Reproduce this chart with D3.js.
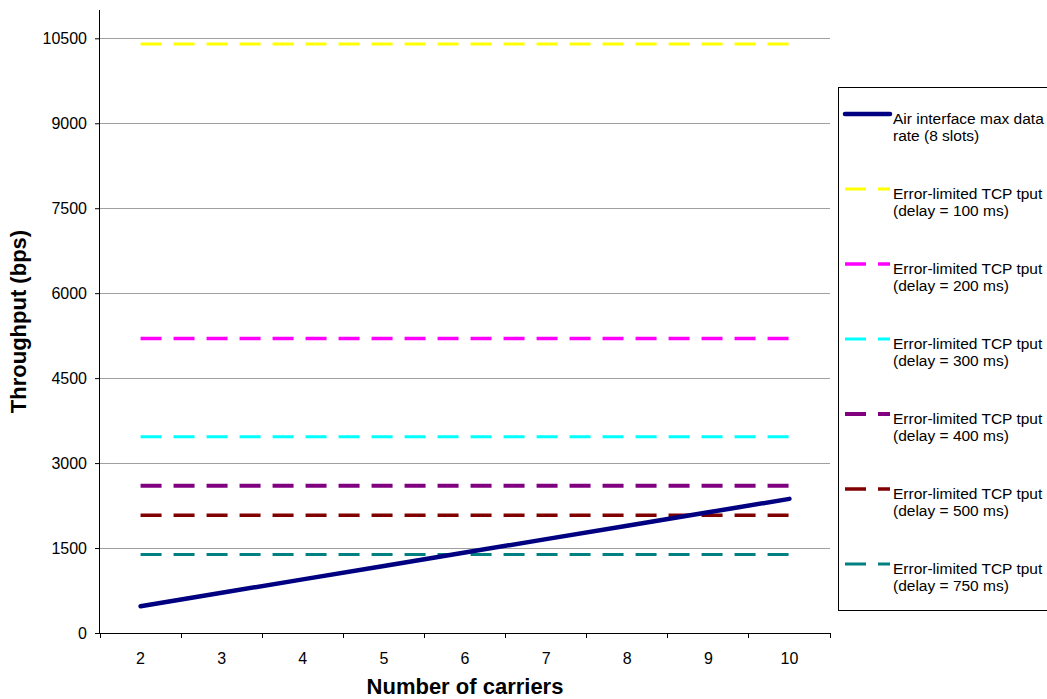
<!DOCTYPE html>
<html><head><meta charset="utf-8">
<script src="https://cdn.jsdelivr.net/npm/d3@7"></script>
<style>
body{margin:0;background:#fff;}
svg{display:block;font-family:Arial,"Liberation Sans",sans-serif;}
</style></head>
<body>
<svg id="chart" width="1047" height="699"></svg>
<script>
const categories = [2,3,4,5,6,7,8,9,10];
const airInterface = [473.6,710.4,947.2,1184,1420.8,1657.6,1894.4,2131.2,2368];
const tcp100 = [10400,10400,10400,10400,10400,10400,10400,10400,10400];
const tcp200 = [5200,5200,5200,5200,5200,5200,5200,5200,5200];
const tcp300 = [3466.7,3466.7,3466.7,3466.7,3466.7,3466.7,3466.7,3466.7,3466.7];
const tcp400 = [2600,2600,2600,2600,2600,2600,2600,2600,2600];
const tcp500 = [2080,2080,2080,2080,2080,2080,2080,2080,2080];
const tcp750 = [1386.7,1386.7,1386.7,1386.7,1386.7,1386.7,1386.7,1386.7,1386.7];
const yTicks = [0,1500,3000,4500,6000,7500,9000,10500];
const seriesNames = ["Air interface max data|rate (8 slots)",
  "Error-limited TCP tput|(delay = 100 ms)",
  "Error-limited TCP tput|(delay = 200 ms)",
  "Error-limited TCP tput|(delay = 300 ms)",
  "Error-limited TCP tput|(delay = 400 ms)",
  "Error-limited TCP tput|(delay = 500 ms)",
  "Error-limited TCP tput|(delay = 750 ms)"];

const series = [
  {name:seriesNames[0], values:airInterface, color:"#000080", width:4.5, dash:null},
  {name:seriesNames[1], values:tcp100, color:"#FFFF00", width:3, dash:"21,12"},
  {name:seriesNames[2], values:tcp200, color:"#FF00FF", width:3.5, dash:"21,12"},
  {name:seriesNames[3], values:tcp300, color:"#00FFFF", width:3, dash:"21,12"},
  {name:seriesNames[4], values:tcp400, color:"#800080", width:4, dash:"21,12"},
  {name:seriesNames[5], values:tcp500, color:"#800000", width:3.5, dash:"21,12"},
  {name:seriesNames[6], values:tcp750, color:"#008080", width:3, dash:"21,12"}
];

const FONT = "Arial, 'Liberation Sans', sans-serif";
const svg = d3.select("#chart");
const L=100, R=830, T=10, B=633;
const x = d3.scaleBand().domain(categories).range([L,R]).padding(0);
const y = d3.scaleLinear().domain([0,11000]).range([B,T]);
const cx = c => x(c)+x.bandwidth()/2;

// gridlines
svg.append("g").selectAll("line").data(yTicks.filter(d=>d>0)).join("line")
  .attr("x1",L).attr("x2",R).attr("y1",d=>y(d)).attr("y2",d=>y(d))
  .attr("stroke","#a0a0a0").attr("stroke-width",1).attr("shape-rendering","crispEdges");

// series
const line = d3.line().x((d,i)=>cx(categories[i])).y(d=>y(d));
const drawOrder = series.slice(1).concat([series[0]]);
svg.append("g").selectAll("path").data(drawOrder).join("path")
  .attr("d",d=>line(d.values)).attr("fill","none")
  .attr("stroke",d=>d.color).attr("stroke-width",d=>d.width)
  .attr("stroke-dasharray",d=>d.dash)
  .attr("stroke-linecap",d=>d.dash?"butt":"round");

// y axis
const yAxis = svg.append("g").attr("transform",`translate(${L},0)`)
  .call(d3.axisLeft(y).tickValues(yTicks).tickSize(5).tickPadding(8).tickFormat(d3.format("d")));
yAxis.attr("font-size",16).attr("font-family",FONT);
yAxis.select(".domain").attr("d",`M-0.5,${T}V${B}`).attr("stroke","#000");
yAxis.selectAll("text").attr("fill","#000");
yAxis.selectAll(".tick line").attr("stroke","#000");

// x axis
const xAxis = svg.append("g").attr("transform",`translate(0,${B})`)
  .call(d3.axisBottom(x).tickSize(0).tickPadding(20));
xAxis.attr("font-size",16).attr("font-family",FONT);
xAxis.select(".domain").attr("d",`M${L},0.5H${R}`).attr("stroke","#000");
xAxis.selectAll("text").attr("fill","#000");
xAxis.append("g").selectAll("line").data(categories.map(c=>x(c)).concat([R]))
  .join("line").attr("x1",d=>d).attr("x2",d=>d).attr("y1",0).attr("y2",5)
  .attr("stroke","#000").attr("shape-rendering","crispEdges");

// axis titles
svg.append("text").attr("x",(L+R)/2).attr("y",694).attr("text-anchor","middle")
  .attr("font-size",22).attr("font-weight","bold").text("Number of carriers");
svg.append("text").attr("transform",`translate(26,${(T+B)/2}) rotate(-90)`)
  .attr("text-anchor","middle").attr("font-size",22).attr("font-weight","bold")
  .text("Throughput (bps)");

// legend
const lg = svg.append("g");
lg.append("rect").attr("x",838.5).attr("y",87.5).attr("width",220).attr("height",523)
  .attr("fill","#fff").attr("stroke","#000").attr("stroke-width",1);
const entry = lg.selectAll("g.entry").data(series).join("g").attr("class","entry")
  .attr("transform",(d,i)=>`translate(0,${114 + i*75})`);
entry.append("line").attr("x1",845).attr("x2",890).attr("y1",0).attr("y2",0)
  .attr("stroke",d=>d.color).attr("stroke-width",d=>d.width)
  .attr("stroke-dasharray",d=>d.dash)
  .attr("stroke-linecap",d=>d.dash?"butt":"round");
entry.each(function(d){
  const parts = d.name.split("|");
  const t = d3.select(this).append("text").attr("x",893).attr("y",9.5)
    .attr("font-size",15.5).attr("fill","#000");
  parts.forEach((p,k)=>t.append("tspan").attr("x",893).attr("dy",k===0?0:17).text(p));
});
</script>
</body></html>
